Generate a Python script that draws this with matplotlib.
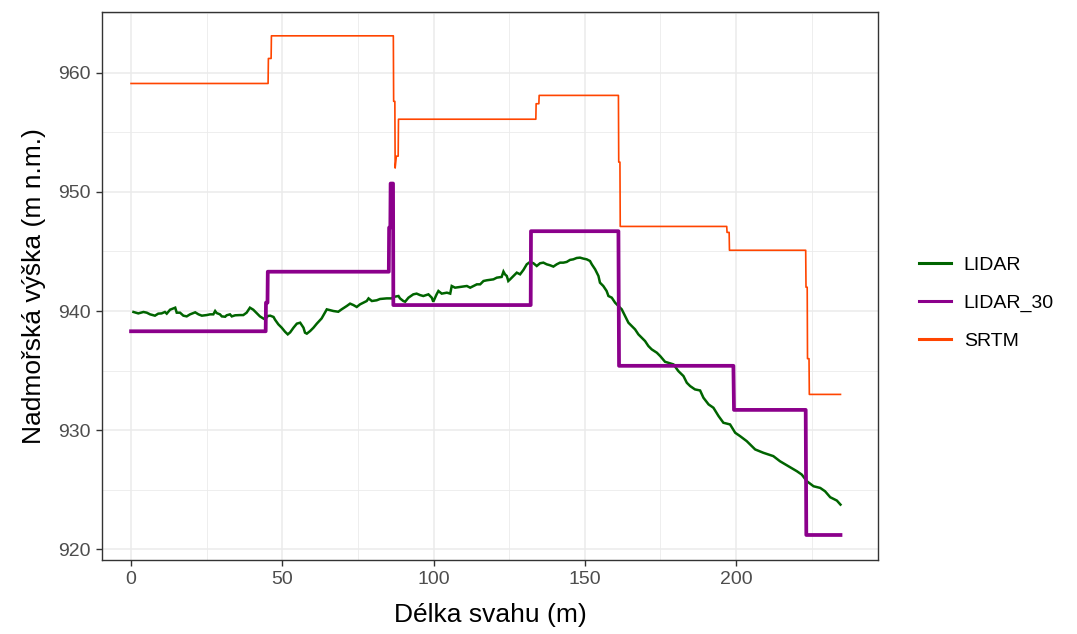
import matplotlib
matplotlib.use("Agg")
import matplotlib.pyplot as plt
from matplotlib.lines import Line2D
from matplotlib.ticker import MultipleLocator

plt.rcParams['font.family'] = ['Liberation Sans', 'DejaVu Sans']

# Slope profile: distance along slope (m) and elevation (m a.s.l.)
lidar_x = [0.8, 2.4, 4.1, 5.2, 6.3, 7.9, 9.0, 10.1, 11.2, 11.8, 12.9, 14.6, 15.1, 16.2,
           17.3, 18.4, 19.5, 21.2, 22.3, 23.4, 25.0, 26.1, 27.2, 27.8, 28.3, 29.4, 30.0,
           31.1, 31.6, 32.7, 33.3, 34.4, 36.0, 37.1, 38.2, 39.3, 40.4, 41.5, 42.6, 43.8,
           44.3, 45.2, 46.0, 47.1, 47.6, 48.7, 49.8, 50.9, 51.8, 52.6, 53.7, 54.8, 55.9,
           57.0, 57.5, 58.1, 59.2, 60.3, 61.4, 63.0, 64.1, 64.7, 66.9, 68.5, 69.6, 71.3,
           72.4, 73.5, 74.6, 75.7, 77.9, 78.5, 79.6, 81.2, 82.3, 84.5, 86.2, 86.7, 88.4,
           88.9, 90.0, 90.6, 91.7, 93.3, 94.4, 95.5, 96.6, 98.3, 99.4, 99.9, 101.0, 101.6,
           102.7, 104.4, 105.5, 106.0, 107.1, 108.8, 111.0, 112.1, 113.2, 114.3, 115.4,
           116.5, 117.6, 119.8, 120.9, 122.5, 123.1, 123.6, 124.2, 124.7, 125.3, 126.4,
           127.5, 128.6, 129.7, 130.8, 131.9, 133.0, 134.1, 135.2, 136.3, 137.4, 138.5,
           139.6, 140.7, 141.8, 142.9, 144.0, 145.1, 146.2, 147.3, 148.4, 149.5, 150.6,
           151.7, 152.3, 153.4, 154.5, 155.0, 156.1, 157.2, 157.8, 158.9, 160.0, 161.1,
           162.2, 163.3, 164.4, 165.5, 166.6, 167.7, 168.8, 169.9, 171.0, 172.1, 173.8,
           174.9, 176.5, 179.3, 180.9, 182.6, 183.7, 184.8, 186.4, 188.1, 189.2, 190.9,
           192.5, 194.2, 195.8, 198.0, 199.7, 201.3, 203.5, 206.3, 209.0, 212.3, 214.5,
           217.3, 220.1, 221.7, 223.4, 225.6, 227.8, 229.4, 231.1, 233.3, 234.5]
lidar_y = [939.92, 939.80, 939.92, 939.86, 939.72, 939.61, 939.78, 939.80, 939.92, 939.78,
           940.11, 940.28, 939.86, 939.86, 939.61, 939.55, 939.72, 939.89, 939.72, 939.61,
           939.66, 939.72, 939.72, 940.00, 939.83, 939.72, 939.55, 939.52, 939.64, 939.72,
           939.55, 939.64, 939.66, 939.66, 939.86, 940.28, 940.11, 939.83, 939.55, 939.36,
           939.30, 939.58, 939.61, 939.50, 939.27, 938.88, 938.60, 938.26, 938.04, 938.21,
           938.60, 938.94, 939.02, 938.60, 938.18, 938.10, 938.32, 938.60, 938.94, 939.38,
           939.86, 940.14, 940.00, 939.94, 940.14, 940.42, 940.62, 940.50, 940.34, 940.56,
           940.84, 941.06, 940.84, 940.90, 941.01, 941.06, 941.06, 941.18, 941.26, 941.06,
           940.84, 940.78, 941.12, 941.40, 941.46, 941.34, 941.26, 941.40, 941.12, 940.78,
           941.40, 941.68, 941.46, 941.54, 941.46, 942.10, 941.96, 942.02, 942.10, 941.96,
           942.10, 942.24, 942.24, 942.52, 942.58, 942.66, 942.80, 942.86, 943.31, 943.08,
           942.94, 942.52, 942.66, 942.94, 943.22, 943.08, 943.45, 943.92, 944.12, 944.01,
           943.78, 944.01, 944.06, 943.92, 943.84, 943.73, 943.92, 944.06, 944.06, 944.12,
           944.29, 944.34, 944.45, 944.48, 944.40, 944.34, 944.20, 943.92, 943.50, 942.94,
           942.38, 942.10, 941.68, 941.26, 941.12, 940.70, 940.42, 940.14, 939.58, 939.02,
           938.74, 938.46, 938.04, 937.76, 937.48, 937.06, 936.78, 936.50, 936.22, 935.74,
           935.52, 934.96, 934.54, 933.98, 933.70, 933.42, 933.33, 932.72, 932.16, 931.88,
           931.18, 930.62, 930.48, 929.78, 929.50, 929.08, 928.38, 928.10, 927.82, 927.39,
           926.97, 926.55, 926.27, 925.71, 925.29, 925.15, 924.87, 924.37, 924.09, 923.75]

lidar30_x = [0.0, 44.5, 44.6, 45.1, 45.2, 85.2, 85.3, 85.7, 85.8, 86.6, 86.7, 132.1, 132.2,
             161.1, 161.3, 199.1, 199.3, 223.0, 223.2, 234.5]
lidar30_y = [938.3, 938.3, 940.7, 940.7, 943.3, 943.3, 947.0, 947.0, 950.7, 950.7, 940.5,
             940.5, 946.7, 946.7, 935.4, 935.4, 931.7, 931.7, 921.2, 921.2]

srtm_x = [0.0, 45.3, 45.4, 46.3, 46.4, 86.7, 86.8, 87.2, 87.3, 87.7, 88.3, 88.4, 133.8,
          133.9, 134.8, 134.9, 161.1, 161.2, 161.6, 161.7, 196.9, 197.0, 197.7, 197.8,
          223.0, 223.1, 223.5, 223.6, 224.1, 224.2, 234.5]
srtm_y = [959.1, 959.1, 961.2, 961.2, 963.1, 963.1, 957.6, 957.6, 952.0, 953.0, 953.0,
          956.1, 956.1, 957.4, 957.4, 958.1, 958.1, 952.5, 952.5, 947.1, 947.1, 946.6,
          946.6, 945.1, 945.1, 942.0, 942.0, 936.0, 936.0, 933.0, 933.0]

series_names = ["LIDAR", "LIDAR_30", "SRTM"]
series_colors = ["#006400", "#8B008B", "#FF4500"]

x_ticks = [0, 50, 100, 150, 200]
y_ticks = [920, 930, 940, 950, 960]

fig = plt.figure(figsize=(10.77, 6.34), dpi=100)
ax = fig.add_axes([102 / 1077, 1 - 560 / 634, (878 - 102) / 1077, (560 - 12) / 634])

ax.plot(lidar_x, lidar_y, color=series_colors[0], lw=1.8, solid_joinstyle='miter', zorder=3)
ax.plot(lidar30_x, lidar30_y, color=series_colors[1], lw=2.7, zorder=4)
ax.plot(srtm_x, srtm_y, color=series_colors[2], lw=1.2, zorder=5)

ax.set_xlim(-9.6, 246.9)
ax.set_ylim(919.1, 965.1)
ax.set_xticks(x_ticks)
ax.set_yticks(y_ticks)
ax.xaxis.set_minor_locator(MultipleLocator(25))
ax.yaxis.set_minor_locator(MultipleLocator(5))

ax.grid(which='major', color='#EBEBEB', lw=1.1)
ax.grid(which='minor', color='#EBEBEB', lw=0.6)
ax.set_axisbelow(True)

for s in ax.spines.values():
    s.set_color('#333333')
    s.set_linewidth(1.0)

ax.tick_params(which='major', length=4, width=1.0, color='#333333',
               labelsize=14, labelcolor='#4D4D4D', pad=4)
ax.tick_params(which='minor', length=0)

ax.set_xlabel("Délka svahu (m)", fontsize=19, color='black', labelpad=11)
ax.set_ylabel("Nadmořská výška (m n.m.)", fontsize=19, color='black', labelpad=9)

handles = [Line2D([], [], color=c, lw=2.2) for c in series_colors]
fig.legend(handles, series_names, loc='center left',
           bbox_to_anchor=(919 / 1077, 1 - 303 / 634), frameon=False,
           fontsize=14, handlelength=1.65, handletextpad=0.65, labelspacing=1.05,
           borderpad=0, borderaxespad=0)

fig.savefig("out.png", dpi=100)
